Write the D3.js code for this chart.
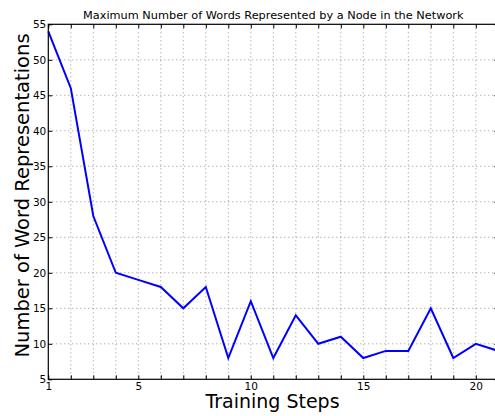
<!DOCTYPE html>
<html>
<head>
<meta charset="utf-8">
<script src="https://cdn.jsdelivr.net/npm/d3@7"></script>
<style>
  html, body { margin: 0; padding: 0; background: #fff; overflow: hidden; }
  svg { display: block; }
  text { font-family: "DejaVu Sans", sans-serif; fill: #000; }
</style>
</head>
<body>
<svg id="chart" width="495" height="416"></svg>
<script>
// Training steps and the largest number of words held by any single node
const steps = [1, 2, 3, 4, 5, 6, 7, 8, 9, 10, 11, 12, 13, 14, 15, 16, 17, 18, 19, 20, 21];
const maxWords = [54, 46, 28, 20, 19, 18, 15, 18, 8, 16, 8, 14, 10, 11, 8, 9, 9, 15, 8, 10, 9];
const xTickLabels = [1, 5, 10, 15, 20];
const yTicks = [5, 10, 15, 20, 25, 30, 35, 40, 45, 50, 55];

const titleText = "Maximum Number of Words Represented by a Node in the Network";
const xLabel = "Training Steps";
const yLabel = "Number of Word Representations";

const svg = d3.select("#chart");
const plotLeft = 48.3, plotRight = 498.3, plotTop = 24.3, plotBottom = 379.3;

const x = d3.scaleLinear().domain([1, 21]).range([plotLeft, plotRight]);
const y = d3.scaleLinear().domain([5, 55]).range([plotBottom, plotTop]);

// dotted grid at every step and every 5 words
const grid = svg.append("g");
grid.selectAll("line.v").data(steps.slice(1, -1)).join("line")
  .attr("x1", d => x(d)).attr("x2", d => x(d))
  .attr("y1", plotTop).attr("y2", plotBottom)
  .attr("stroke", "#777").attr("stroke-width", 0.8).attr("stroke-dasharray", "1,3");
grid.selectAll("line.h").data(yTicks.slice(1, -1)).join("line")
  .attr("x1", plotLeft).attr("x2", plotRight)
  .attr("y1", d => y(d)).attr("y2", d => y(d))
  .attr("stroke", "#777").attr("stroke-width", 0.8).attr("stroke-dasharray", "1,3");

// inward ticks on all sides
const tickLen = 4;
const fmtX = d => xTickLabels.includes(d) ? d : "";
svg.append("g").attr("transform", `translate(0,${plotBottom})`)
  .call(d3.axisBottom(x).tickValues(steps).tickSizeInner(-tickLen).tickSizeOuter(0).tickPadding(3.5).tickFormat(fmtX))
  .call(g => g.select(".domain").remove())
  .call(g => g.selectAll("text").attr("font-size", "10.5px").attr("font-family", "DejaVu Sans, sans-serif").attr("fill", "#000"));
svg.append("g").attr("transform", `translate(0,${plotTop})`)
  .call(d3.axisTop(x).tickValues(steps).tickSizeInner(-tickLen).tickSizeOuter(0).tickFormat(""))
  .call(g => g.select(".domain").remove());
svg.append("g").attr("transform", `translate(${plotLeft},0)`)
  .call(d3.axisLeft(y).tickValues(yTicks).tickSizeInner(-tickLen).tickSizeOuter(0).tickPadding(2))
  .call(g => g.select(".domain").remove())
  .call(g => g.selectAll("text").attr("font-size", "10.5px").attr("font-family", "DejaVu Sans, sans-serif").attr("fill", "#000"));
svg.append("g").attr("transform", `translate(${plotRight},0)`)
  .call(d3.axisRight(y).tickValues(yTicks).tickSizeInner(-tickLen).tickSizeOuter(0).tickFormat(""))
  .call(g => g.select(".domain").remove());

// data line
const line = d3.line().x((d, i) => x(steps[i])).y(d => y(d));
svg.append("path").datum(maxWords)
  .attr("d", line).attr("fill", "none")
  .attr("stroke", "#0000ff").attr("stroke-width", 2).attr("stroke-linejoin", "miter");

// frame
svg.append("rect").attr("x", plotLeft).attr("y", plotTop)
  .attr("width", plotRight - plotLeft).attr("height", plotBottom - plotTop)
  .attr("fill", "none").attr("stroke", "#000").attr("stroke-width", 1.2);

// titles
svg.append("text").attr("x", (plotLeft + plotRight) / 2).attr("y", 19)
  .attr("text-anchor", "middle").attr("font-size", "11.3px").text(titleText);
svg.append("text").attr("x", 272.5).attr("y", 408)
  .attr("text-anchor", "middle").attr("font-size", "19px").text(xLabel);
svg.append("text").attr("transform", "translate(28.5,195.5) rotate(-90)")
  .attr("text-anchor", "middle").attr("font-size", "19.5px").text(yLabel);
</script>
</body>
</html>
